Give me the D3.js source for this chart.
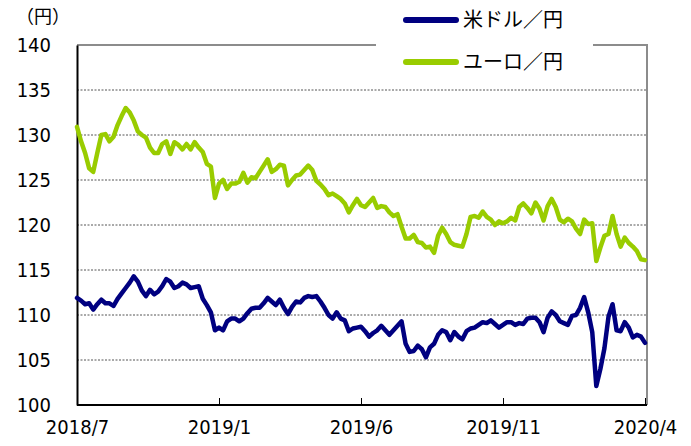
<!DOCTYPE html>
<html><head><meta charset="utf-8">
<script src="https://cdn.jsdelivr.net/npm/d3@7"></script>
<style>
html,body{margin:0;padding:0;background:#fff;}
svg{display:block;}
.num{font-family:"Liberation Sans Narrow","DejaVu Sans Condensed","Liberation Sans",sans-serif;}
.jp{font-family:"Noto Sans CJK JP","Noto Sans CJK SC",sans-serif;}
</style></head>
<body>
<svg id="c" width="691" height="446"></svg>
<script>
// ---- data ----
const seriesNames = ["米ドル／円", "ユーロ／円"];
const xTickLabels = ["2018/7", "2019/1", "2019/6", "2019/11", "2020/4"];
const xTickIndex = [0, 35, 70, 105, 140];
const yTicks = [100, 105, 110, 115, 120, 125, 130, 135, 140];
const usdJpy = [
 111.9,111.6,111.2,111.3,110.6,111.2,111.7,111.3,111.3,111.0,
 111.8,112.4,113.0,113.6,114.3,113.7,112.7,112.1,112.8,112.3,
 112.6,113.2,114.0,113.7,113.0,113.2,113.6,113.4,113.0,113.1,
 113.2,111.8,111.1,110.3,108.3,108.6,108.3,109.3,109.6,109.6,
 109.3,109.6,110.2,110.7,110.8,110.8,111.3,111.9,111.5,111.1,
 111.7,110.8,110.1,110.9,111.5,111.4,111.9,112.1,112.0,112.1,
 111.5,110.8,110.0,109.6,110.3,109.6,109.4,108.2,108.5,108.6,
 108.7,108.2,107.6,108.0,108.3,108.8,108.3,107.8,108.3,108.8,
 109.3,106.8,105.9,106.0,106.6,106.2,105.3,106.4,106.8,107.8,
 108.3,108.1,107.2,108.1,107.6,107.3,108.2,108.5,108.6,108.9,
 109.2,109.1,109.4,109.0,108.6,108.9,109.2,109.2,108.9,109.1,
 109.0,109.6,109.7,109.7,109.2,108.1,109.7,110.4,110.0,109.3,
 109.1,108.9,109.9,110.0,110.8,112.0,110.3,108.1,102.1,104.0,
 106.3,109.8,111.2,108.3,108.2,109.2,108.6,107.5,107.8,107.6,
 106.9
];
const eurJpy = [
 130.9,129.3,128.0,126.3,125.9,128.0,130.0,130.1,129.3,129.8,
 131.1,132.1,133.0,132.5,131.6,130.4,130.0,129.7,128.6,128.0,
 128.0,129.0,129.3,127.9,129.2,128.9,128.4,129.0,128.4,129.2,
 128.6,128.1,126.8,126.5,123.0,124.6,125.0,124.0,124.6,124.6,
 124.8,125.8,124.7,125.3,125.2,125.9,126.6,127.3,125.9,126.2,
 126.7,126.6,124.4,125.0,125.5,125.6,126.1,126.6,126.1,124.9,
 124.5,124.0,123.3,123.5,123.2,122.9,122.4,121.4,122.2,122.9,
 122.2,122.0,122.5,123.0,121.9,122.1,122.0,121.4,121.0,121.2,
 119.8,118.5,118.5,118.9,118.1,118.0,117.5,117.6,116.9,118.8,
 119.7,119.0,118.1,117.8,117.7,117.6,119.0,120.9,121.0,120.8,
 121.5,120.9,120.6,120.0,120.4,120.2,120.4,120.8,120.5,122.0,
 122.4,121.9,121.3,122.5,121.8,120.5,122.1,122.9,122.0,120.6,
 120.3,120.7,120.4,119.6,119.0,120.6,120.1,120.2,116.0,117.5,
 118.8,119.0,121.0,119.0,117.6,118.6,118.0,117.6,117.1,116.2,
 116.1
];
const seriesColors = ["#000080", "#99cc00"];

// ---- chart ----
const svg = d3.select("#c");
const L = 77, R = 647, T = 45, B = 405;
const x = d3.scaleLinear().domain([0, usdJpy.length - 1]).range([L, 645]);
const y = d3.scaleLinear().domain([100, 140]).range([B, T]);

// gridlines
svg.append("g").selectAll("line").data(yTicks.filter(v => v > 100 && v < 140)).join("line")
  .attr("x1", L).attr("x2", R).attr("y1", d => y(d)).attr("y2", d => y(d))
  .attr("stroke", "#555").attr("stroke-width", 1).attr("stroke-dasharray", "2,1.5");

// frame (top/right gray)
svg.append("path").attr("d", `M${L},${T}H${R}V${B}`).attr("fill", "none")
  .attr("stroke", "#8c8c8c").attr("stroke-width", 2);

// y axis
const yAxis = svg.append("g").attr("transform", `translate(${L},0)`)
  .call(d3.axisLeft(y).tickValues(yTicks).tickSize(0).tickPadding(26).tickFormat(d3.format("d")));
yAxis.select(".domain").attr("stroke", "#000").attr("stroke-width", 2);
yAxis.selectAll("text").attr("class", "num").attr("font-size", 20).attr("fill", "#000");

// x axis
const xAxis = svg.append("g").attr("transform", `translate(0,${B})`)
  .call(d3.axisBottom(x).tickValues(xTickIndex).tickSize(-7).tickPadding(15)
    .tickFormat((d, i) => xTickLabels[i]));
xAxis.select(".domain").attr("d", `M${L},0H${R}`).attr("stroke", "#000").attr("stroke-width", 2);
xAxis.selectAll(".tick line").attr("stroke", "#000").attr("stroke-width", 1);
xAxis.selectAll("text").attr("class", "num").attr("font-size", 20).attr("fill", "#000");

// lines
const line = d3.line().x((d, i) => x(i)).y(d => y(d));
[eurJpy, usdJpy].forEach((s, k) => {
  svg.append("path").datum(s).attr("d", line).attr("fill", "none")
    .attr("stroke", seriesColors[1 - k]).attr("stroke-width", 4.5)
    .attr("stroke-linejoin", "round").attr("stroke-linecap", "round");
});

// legend
svg.append("rect").attr("x", 376).attr("y", 0).attr("width", 217).attr("height", 78).attr("fill", "#fff");
const lg = svg.append("g");
seriesNames.forEach((n, k) => {
  const cy = 20 + k * 42;
  lg.append("line").attr("x1", 406).attr("x2", 456).attr("y1", cy).attr("y2", cy)
    .attr("stroke", seriesColors[k]).attr("stroke-width", 6).attr("stroke-linecap", "round");
  lg.append("text").attr("class", "jp").attr("x", 463).attr("y", cy).attr("dy", "0.36em")
    .attr("font-size", 20).attr("fill", "#000").text(n);
});

// unit
svg.append("text").attr("class", "jp").attr("x", 43).attr("y", 17).attr("dy", "0.36em")
  .attr("text-anchor", "middle").attr("font-size", 18).attr("fill", "#000").text("（円）");
</script>
</body></html>
